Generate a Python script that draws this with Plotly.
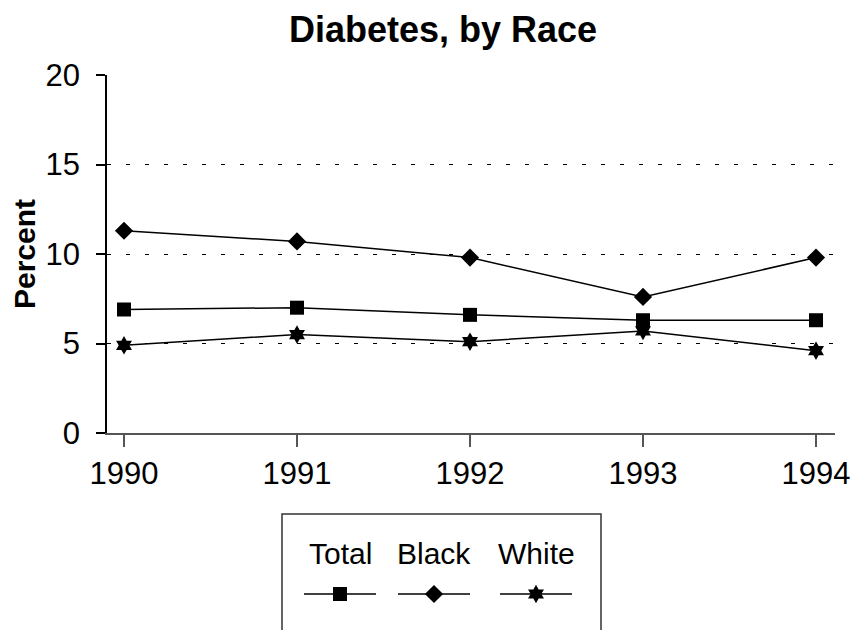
import plotly.graph_objects as go

# Diabetes prevalence (percent) by race, 1990-1994
years = [1990, 1991, 1992, 1993, 1994]
year_labels = ["1990", "1991", "1992", "1993", "1994"]
total = [6.9, 7.0, 6.6, 6.3, 6.3]
black = [11.3, 10.7, 9.8, 7.6, 9.8]
white = [4.9, 5.5, 5.1, 5.7, 4.6]

series_names = ["Total", "Black", "White"]
series_values = [total, black, white]
series_symbols = ["square", "diamond", "hexagram"]
series_sizes = [14, 14, 14]

y_ticks = [0, 5, 10, 15, 20]

W, H = 855, 630
FONT = "Liberation Sans, Arial, sans-serif"

# plot area in pixels
PL, PR, PT, PB = 107, 835, 75, 433

# legend area in pixels
LX0, LX1, LY0, LY1 = 282, 601, 514, 630

fig = go.Figure()

for name, vals, sym, sz in zip(series_names, series_values, series_symbols, series_sizes):
    fig.add_trace(go.Scatter(
        x=years, y=vals, name=name, mode="lines+markers",
        line=dict(color="black", width=1.5),
        marker=dict(symbol=sym, size=sz, color="black"),
        showlegend=False, cliponaxis=False,
    ))

# custom legend: label above a short line sample with the series marker
legend_centers = [340, 434, 536]
sample_half = 36
text_y = 553
sample_y = 594

for name, sym, sz, cx in zip(series_names, series_symbols, series_sizes, legend_centers):
    fig.add_trace(go.Scatter(
        x=[cx - sample_half, cx + sample_half], y=[sample_y] * 2,
        mode="lines", line=dict(color="black", width=1.5),
        xaxis="x2", yaxis="y2", showlegend=False, hoverinfo="skip",
        cliponaxis=False,
    ))
    fig.add_trace(go.Scatter(
        x=[cx], y=[sample_y], mode="markers",
        marker=dict(symbol=sym, size=sz, color="black"),
        xaxis="x2", yaxis="y2", showlegend=False, hoverinfo="skip",
        cliponaxis=False,
    ))
    fig.add_annotation(
        x=cx / W, y=1 - text_y / H, xref="paper", yref="paper",
        text=name, showarrow=False, xanchor="center", yanchor="middle",
        font=dict(family=FONT, size=30, color="black"),
    )

fig.add_shape(
    type="rect", xref="paper", yref="paper",
    x0=LX0 / W, x1=LX1 / W,
    y0=1 - (LY1 + 2) / H, y1=1 - LY0 / H,
    line=dict(color="#333333", width=1.5), fillcolor="rgba(0,0,0,0)",
    layer="below",
)

# y-axis title
fig.add_annotation(
    x=24 / W, y=1 - 254 / H, xref="paper", yref="paper",
    text="<b>Percent</b>", showarrow=False, textangle=-90,
    xanchor="center", yanchor="middle",
    font=dict(family=FONT, size=30, color="black"),
)

fig.update_layout(
    width=W, height=H,
    margin=dict(l=0, r=0, t=0, b=0, pad=0, autoexpand=False),
    paper_bgcolor="white", plot_bgcolor="white",
    font=dict(family=FONT, size=30, color="black"),
    title=dict(
        text="<b>Diabetes, by Race</b>", x=443 / W, y=1 - 29 / H,
        xanchor="center", yanchor="middle", xref="paper", yref="container",
        font=dict(family=FONT, size=36, color="black"),
        automargin=False,
    ),
    xaxis=dict(
        domain=[PL / W, PR / W], anchor="y", automargin=False,
        range=[1990 - (124 - PL) / 173.0, 1994 + (PR - 816) / 173.0],
        tickvals=years, ticktext=year_labels,
        showgrid=False, zeroline=False,
        showline=True, linecolor="#555555", linewidth=1.5,
        ticks="outside", ticklen=12, tickcolor="#555555", tickwidth=1.5,
        tickfont=dict(family=FONT, size=31, color="black"),
    ),
    yaxis=dict(
        domain=[1 - PB / H, 1 - PT / H], anchor="x", automargin=False,
        range=[0, 20], tickvals=y_ticks,
        showgrid=True, gridcolor="black", gridwidth=1, griddash="4px,15px",
        zeroline=False,
        showline=True, linecolor="black", linewidth=1.5,
        ticks="outside", ticklen=9, tickcolor="black", tickwidth=1.5,
        ticklabelstandoff=10,
        tickfont=dict(family=FONT, size=31, color="black"),
    ),
    xaxis2=dict(domain=[LX0 / W, LX1 / W], anchor="y2", automargin=False,
                range=[LX0, LX1], visible=False, fixedrange=True),
    yaxis2=dict(domain=[0, 1 - LY0 / H], anchor="x2", automargin=False,
                range=[LY1, LY0], visible=False, fixedrange=True),
)

fig.write_html("out.html")
